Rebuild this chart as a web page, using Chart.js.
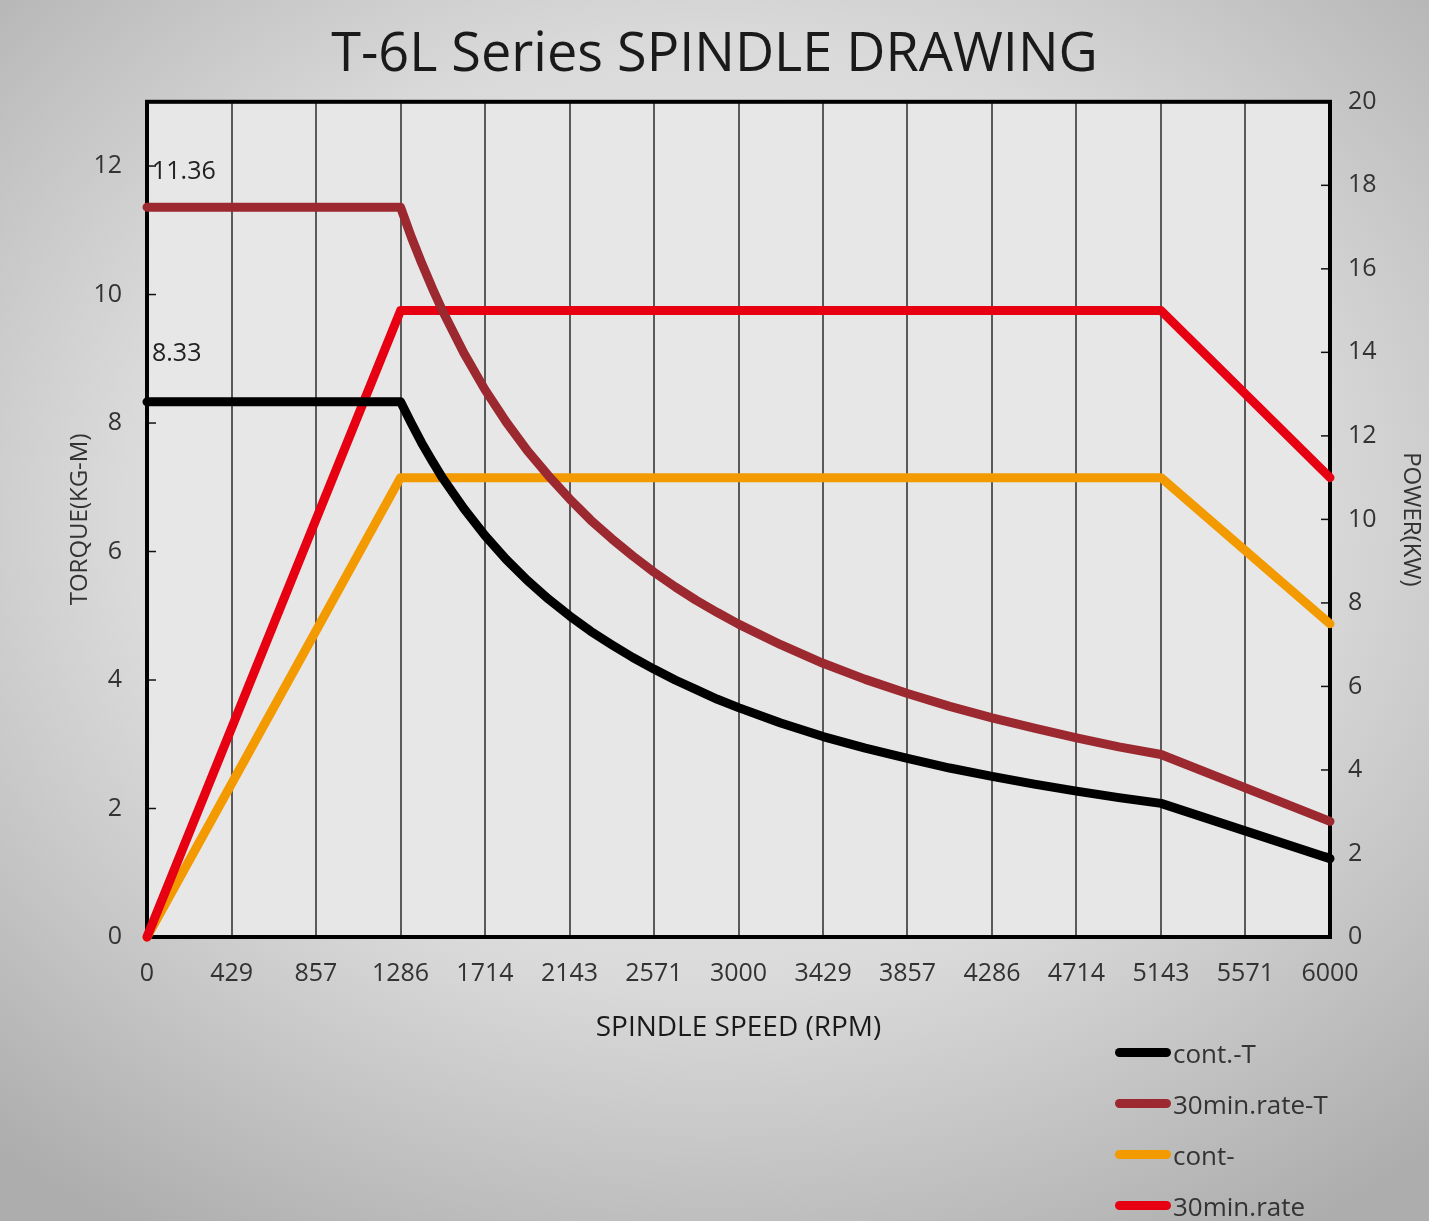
<!DOCTYPE html>
<html>
<head>
<meta charset="utf-8">
<script src="https://cdn.jsdelivr.net/npm/chart.js@4.4.1/dist/chart.umd.min.js"></script>
<style>
  html, body { margin: 0; padding: 0; }
  body {
    width: 1429px; height: 1221px; overflow: hidden;
    background: radial-gradient(ellipse 75% 70% at 50% 42%, #efefef 0%, #dadada 55%, #adadad 100%);
    font-family: 'Open Sans', sans-serif;
  }
  #wrap { position: absolute; left: 0; top: 0; width: 1429px; height: 1221px; }
  #legend { position: absolute; left: 1115px; top: 1027px; }
  .item { height: 51px; display: flex; align-items: center; color: #333; font-size: 26px; }
  .swatch { width: 56px; height: 9px; border-radius: 5px; margin-right: 2px; }
</style>
</head>
<body>
<div id="wrap"><canvas id="graph"></canvas></div>
<div id="legend"></div>
<script>
// chart values
const speedTicks = [0, 429, 857, 1286, 1714, 2143, 2571, 3000, 3429, 3857, 4286, 4714, 5143, 5571, 6000];
const torqueTicks = [0, 2, 4, 6, 8, 10, 12];
const powerTicks = [0, 2, 4, 6, 8, 10, 12, 14, 16, 18, 20];

const torqueSpeed = [0, 1286, 1340, 1393, 1450, 1500, 1607, 1714, 1821, 1929, 2036, 2143, 2250, 2357, 2464, 2571, 2679, 2786, 2893, 3000, 3214, 3429, 3643, 3857, 4071, 4286, 4500, 4714, 4929, 5143, 6000];
const contTorque = [8.33, 8.33, 8.0, 7.69, 7.39, 7.14, 6.67, 6.25, 5.88, 5.55, 5.26, 5.0, 4.76, 4.55, 4.35, 4.17, 4.0, 3.85, 3.7, 3.57, 3.33, 3.12, 2.94, 2.78, 2.63, 2.5, 2.38, 2.27, 2.17, 2.08, 1.22];
const rateTorque = [11.36, 11.36, 10.9, 10.49, 10.08, 9.74, 9.09, 8.52, 8.02, 7.57, 7.18, 6.82, 6.49, 6.2, 5.93, 5.68, 5.45, 5.24, 5.05, 4.87, 4.55, 4.26, 4.01, 3.79, 3.59, 3.41, 3.25, 3.1, 2.96, 2.84, 1.8];

const powerSpeed = [0, 1286, 5143, 6000];
const contPower = [0, 11, 11, 7.5];
const ratePower = [0, 15, 15, 11];

const peakLabels = [11.36, 8.33];

const colors = { cont: '#000000', rateT: '#9c2830', contP: '#f39a00', rateP: '#e60012' };

const toPoints = (xs, ys) => xs.map((x, i) => ({ x: x, y: ys[i] }));

const frameAndTicks = {
  id: 'frameAndTicks',
  beforeDatasetsDraw(chart) {
    const { ctx, chartArea: a, scales } = chart;
    ctx.save();
    ctx.strokeStyle = '#111';
    ctx.lineWidth = 1.5;
    // small inner ticks on both value axes
    scales.yT.ticks.forEach((t) => {
      const y = scales.yT.getPixelForValue(t.value);
      ctx.beginPath(); ctx.moveTo(a.left, y); ctx.lineTo(a.left + 9, y); ctx.stroke();
    });
    scales.yP.ticks.forEach((t) => {
      const y = scales.yP.getPixelForValue(t.value);
      ctx.beginPath(); ctx.moveTo(a.right, y); ctx.lineTo(a.right - 9, y); ctx.stroke();
    });
    ctx.lineWidth = 4;
    ctx.strokeStyle = '#000';
    ctx.strokeRect(a.left, a.top, a.right - a.left, a.bottom - a.top);
    ctx.restore();
  },
  beforeDraw(chart) {
    const { ctx, chartArea: a } = chart;
    ctx.save();
    ctx.fillStyle = '#e7e7e7';
    ctx.fillRect(a.left, a.top, a.right - a.left, a.bottom - a.top);
    ctx.restore();
  },
  afterDatasetsDraw(chart) {
    const { ctx, scales } = chart;
    ctx.save();
    ctx.fillStyle = '#222';
    ctx.font = '25px "Open Sans"';
    ctx.textBaseline = 'middle';
    ctx.textAlign = 'left';
    const x = scales.x.getPixelForValue(0) + 5;
    ctx.fillText(peakLabels[0].toFixed(2), x, scales.yT.getPixelForValue(peakLabels[0]) - 35);
    ctx.fillText(peakLabels[1].toFixed(2), x, scales.yT.getPixelForValue(peakLabels[1]) - 48);
    ctx.restore();
  },
};

const tickFont = { family: 'Open Sans', size: 25 };
const plainLabel = (v) => String(v);

const lineStyle = (color) => ({
  borderColor: color,
  backgroundColor: color,
  borderWidth: 9,
  pointRadius: 0,
  borderCapStyle: 'round',
  borderJoinStyle: 'round',
  tension: 0,
  clip: false,
  fill: false,
});

const ctx = document.getElementById('graph').getContext('2d');
const chart = new Chart(ctx, {
  type: 'line',
  data: {
    datasets: [
      { label: 'cont-', data: toPoints(powerSpeed, contPower), yAxisID: 'yP', ...lineStyle(colors.contP), order: 4 },
      { label: '30min.rate', data: toPoints(powerSpeed, ratePower), yAxisID: 'yP', ...lineStyle(colors.rateP), order: 3 },
      { label: '30min.rate-T', data: toPoints(torqueSpeed, rateTorque), yAxisID: 'yT', ...lineStyle(colors.rateT), order: 2 },
      { label: 'cont.-T', data: toPoints(torqueSpeed, contTorque), yAxisID: 'yT', ...lineStyle(colors.cont), order: 1 },
    ],
  },
  options: {
    responsive: true,
    maintainAspectRatio: false,
    animation: false,
    layout: { padding: { left: 0, right: 0, top: 0, bottom: 161 } },
    plugins: {
      legend: { display: false },
      tooltip: { enabled: false },
      title: {
        display: true,
        text: 'T-6L Series SPINDLE DRAWING',
        color: '#1a1a1a',
        font: { family: 'Open Sans', size: 54, weight: 'normal' },
        padding: { top: 23, bottom: 14 },
      },
    },
    scales: {
      x: {
        type: 'linear',
        min: 0,
        max: 6000,
        afterBuildTicks: (s) => { s.ticks = speedTicks.map((v) => ({ value: v })); },
        afterFit: (s) => { s.height = 123; },
        grid: { color: '#5a5a5a', lineWidth: 2, drawTicks: false },
        border: { display: false },
        ticks: { color: '#333', font: tickFont, padding: 22, maxRotation: 0, autoSkip: false, callback: plainLabel },
        title: { display: true, text: 'SPINDLE SPEED (RPM)', color: '#1a1a1a', font: { family: 'Open Sans', size: 28 }, padding: { bottom: 15 } },
      },
      yT: {
        position: 'left',
        min: 0,
        max: 13,
        afterBuildTicks: (s) => { s.ticks = torqueTicks.map((v) => ({ value: v })); },
        afterFit: (s) => { s.width = 147; },
        grid: { display: false },
        border: { display: false },
        ticks: { color: '#333', font: tickFont, padding: 17, callback: plainLabel },
        title: { display: true, text: 'TORQUE(KG-M)', color: '#333', font: { family: 'Open Sans', size: 24 }, padding: { top: 66 } },
      },
      yP: {
        position: 'right',
        min: 0,
        max: 20,
        afterBuildTicks: (s) => { s.ticks = powerTicks.map((v) => ({ value: v })); },
        afterFit: (s) => { s.width = 99; },
        grid: { display: false },
        border: { display: false },
        ticks: { color: '#333', font: tickFont, padding: 10, callback: plainLabel },
        title: { display: true, text: 'POWER(KW)', color: '#333', font: { family: 'Open Sans', size: 24 }, padding: { top: 4 } },
      },
    },
  },
  plugins: [frameAndTicks],
});

// legend in the lower right corner
const legendItems = [
  { label: 'cont.-T', color: colors.cont },
  { label: '30min.rate-T', color: colors.rateT },
  { label: 'cont-', color: colors.contP },
  { label: '30min.rate', color: colors.rateP },
];
const legend = document.querySelector('#legend');
legendItems.forEach((item) => {
  const row = document.createElement('div');
  row.classList.add('item');
  const sw = document.createElement('span');
  sw.classList.add('swatch');
  sw.style.background = item.color;
  const txt = document.createElement('span');
  txt.textContent = item.label;
  row.appendChild(sw);
  row.appendChild(txt);
  legend.appendChild(row);
});
</script>
</body>
</html>
